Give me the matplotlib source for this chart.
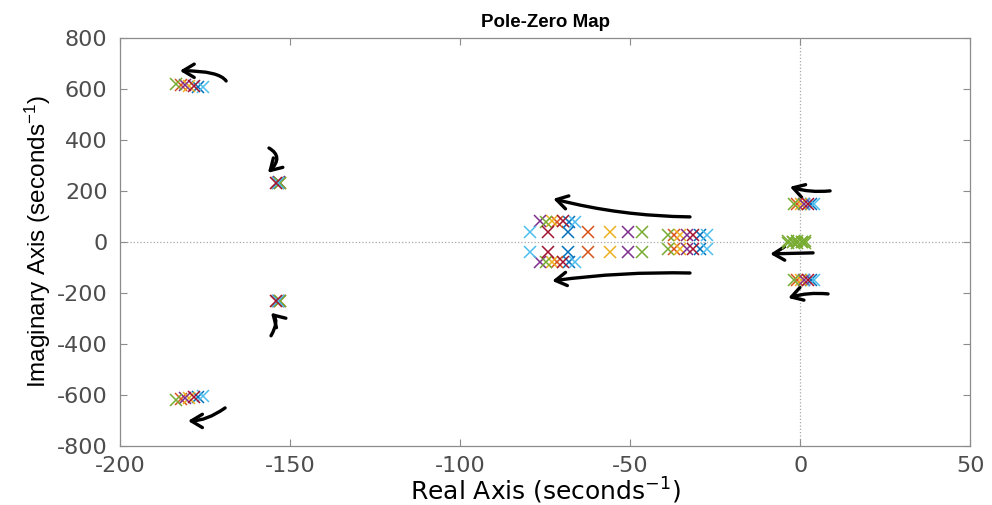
import matplotlib.pyplot as plt
from matplotlib.patches import FancyArrowPatch

plt.rcParams['axes.unicode_minus'] = False
plt.rcParams['mathtext.default'] = 'regular'

# MATLAB default colour order, one colour per system
colors = ['#0072BD', '#D95319', '#EDB120', '#7E2F8E', '#77AC30', '#4DBEEE', '#A2142F']

# pole locations per system (upper half plane, conjugates are mirrored)
# system order: blue, orange, yellow, purple, green, cyan, red
far_re = [-177.0, -182.2, -179.6, -180.9, -183.5, -175.7, -178.3]
far_im = [608, 616, 612, 614, 618, 606, 610]
mid_re = [-153.6, -153.1, -153.8, -153.3, -152.9, -153.5, -154.1]
mid_im = [232, 231, 232, 233, 232, 232, 231]
left_re = [-68.0, -71.4, -73.1, -76.5, -74.8, -66.3, -69.7]
left_im = [79, 79, 80, 80, 79, 79, 80]
row_re = [-68.2, -62.3, -55.9, -50.5, -46.6, -79.4, -74.1]
row_im = [38, 38, 38, 38, 38, 38, 38]
right_re = [-29.4, -37.1, -35.2, -33.3, -39.0, -27.5, -31.4]
right_im = [26, 26, 26, 26, 26, 26, 26]
axis_re = [3.2, -0.8, 0.2, 1.2, -1.8, 4.2, 2.2]
axis_im = [148, 148, 148, 148, 148, 148, 148]

# slow poles of the green system near the origin
slow_re = [-3.5, -1.0, 1.5, -2.2, 0.5]
slow_im = [5, 4, 3, 0, 0]

# hand drawn arrows: (tail, head, connection style)
arrows = [
    ((-168.8, 631), (-182.4, 671), 'angle3,angleA=125,angleB=0'),
    ((-156.2, 368), (-156.5, 271), 'angle3,angleA=-30,angleB=45'),
    ((-155.6, -368), (-155.6, -278), 'angle3,angleA=60,angleB=-45'),
    ((-169.1, -651), (-180.0, -702), 'angle3,angleA=35,angleB=0'),
    ((-32.4, 98), (-72.6, 169), 'arc3,rad=-0.06'),
    ((-32.4, -122), (-72.9, -153), 'arc3,rad=0.04'),
    ((8.8, 200), (-3.0, 216), 'arc3,rad=-0.1'),
    ((3.8, -43), (-8.8, -47), 'arc3,rad=0'),
    ((8.2, -204), (-3.5, -220), 'arc3,rad=0.1'),
]

fig = plt.figure(figsize=(9.92, 5.05), dpi=100)
ax = fig.add_axes([0.121, 0.117, 0.857, 0.808])

ax.axhline(0, color='#a8a8a8', ls=':', lw=0.9, zorder=0)
ax.axvline(0, color='#a8a8a8', ls=':', lw=0.9, zorder=0)

for k in range(7):
    re = [far_re[k], mid_re[k], left_re[k], row_re[k], right_re[k], axis_re[k]]
    im = [far_im[k], mid_im[k], left_im[k], row_im[k], right_im[k], axis_im[k]]
    if k == 4:
        re = re + slow_re
        im = im + slow_im
    ax.plot(re + re, im + [-v for v in im], 'x', color=colors[k], ms=8, mew=1.1)

for tail, head, style in arrows:
    ax.add_patch(FancyArrowPatch(tail, head, connectionstyle=style,
                                 arrowstyle='->,head_length=0.5,head_width=0.3',
                                 mutation_scale=16, lw=2.4, color='black',
                                 shrinkA=0, shrinkB=0, capstyle='round'))

ax.set_xlim(-200, 50)
ax.set_ylim(-800, 800)
ax.set_xticks([-200, -150, -100, -50, 0, 50])
ax.set_yticks(range(-800, 801, 200))
ax.tick_params(direction='in', top=True, right=True, length=5, color='#8c8c8c',
               labelcolor='#4d4d4d', labelsize=16)
ax.tick_params(axis='y', pad=9)
ax.tick_params(axis='x', pad=7)
for s in ax.spines.values():
    s.set_color('#8c8c8c')
    s.set_linewidth(0.9)

ax.set_title('Pole-Zero Map', fontsize=13.5, fontweight='bold',
             family='Liberation Sans', pad=8)
ax.set_xlabel('Real Axis (seconds$^{-1}$)', fontsize=18, labelpad=0)
ax.set_ylabel('Imaginary Axis (seconds$^{-1}$)', fontsize=17.5,
              family='Liberation Sans', labelpad=3)

fig.savefig('out.png', dpi=100)
